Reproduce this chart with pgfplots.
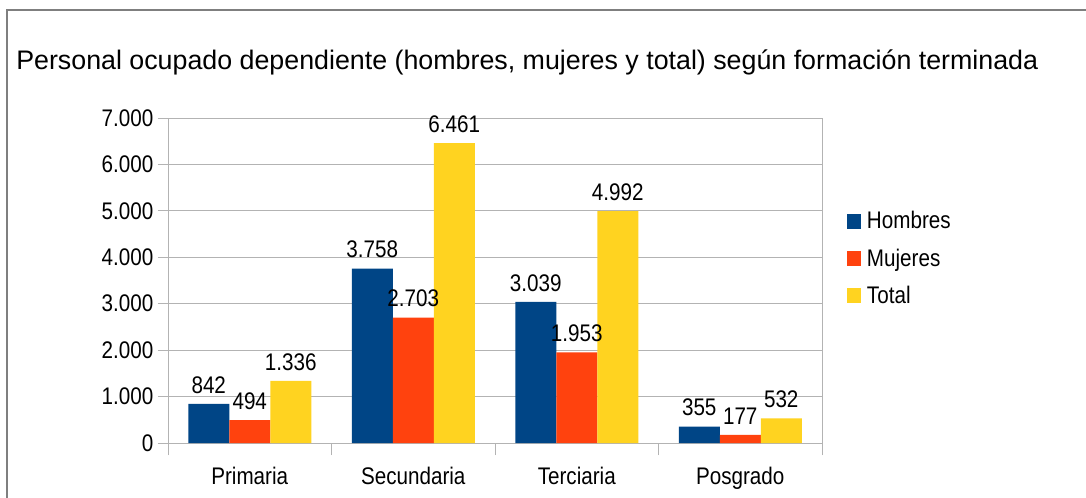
\documentclass[border=0pt]{standalone}
\usepackage{fontspec}
\setmainfont{Liberation Sans}
\newfontfamily\narrowfont[FakeStretch=0.86]{Liberation Sans}
\usepackage{pgfplots}
\pgfplotsset{compat=1.18}
\pgfplotsset{/pgf/number format/.cd, 1000 sep={.}, assume math mode=true}
\definecolor{cblue}{HTML}{004586}
\definecolor{corange}{HTML}{FF420E}
\definecolor{cyellow}{HTML}{FFD320}
\definecolor{cgrid}{HTML}{B3B3B3}
\definecolor{cframe}{HTML}{7F7F7F}
\newcommand{\lblfont}{\narrowfont\fontsize{18}{21}\selectfont}
\begin{document}
\begin{tikzpicture}
\useasboundingbox (0,0) rectangle (814.5pt,372.75pt);
\clip (0,0) rectangle (814.5pt,372.75pt);
\fill[white] (0,0) rectangle (814.5pt,372.75pt);
\draw[cframe, line width=0.9pt] (5.25pt,-10pt) -- (5.25pt,365.25pt) -- (830pt,365.25pt);
\node[anchor=base west, inner sep=0pt, font=\fontsize{20.1}{24}\selectfont] at (12pt,320.8pt) {Personal ocupado dependiente (hombres, mujeres y total) según formación terminada};
\begin{axis}[
  at={(126pt,40.5pt)}, anchor=south west,
  scale only axis, width=490.5pt, height=243.75pt,
  ybar=0pt, bar width=30.75pt,
  xmin=-0.5, xmax=3.5, ymin=0, ymax=7000,
  xtick={0,1,2,3}, xticklabels={Primaria,Secundaria,Terciaria,Posgrado},
  minor xtick={-0.5,0.5,1.5,2.5,3.5},
  ytick={0,1000,...,7000},
  scaled y ticks=false,
  ymajorgrids, major grid style={cgrid, line width=0.75pt},
  axis line style={cgrid, line width=0.75pt},
  tick align=outside, tick pos=left,
  major tick length=7.5pt, minor tick length=9pt,
  tick style={cgrid, line width=0.75pt},
  major x tick style={draw=none},
  ticklabel style={font=\lblfont, text=black},
  xticklabel style={yshift=-6.8pt},
  nodes near coords,
  every node near coord/.append style={font=\lblfont, text=black, yshift=4.3pt},
  legend style={at={(rel axis cs:1.0378,0.712)}, anchor=north west, draw=none, fill=none, inner sep=0pt,
    font=\lblfont, row sep=12.1pt,
    nodes={inner sep=0pt, text height=12.5pt, text depth=3.5pt}},
  legend cell align=left,
  legend image code/.code={\fill[#1] (0pt,-4.5pt) rectangle (10.5pt,6.75pt); \path (15pt,0pt);},
]
\addplot[fill=cblue, draw=none] coordinates {(0,842) (1,3758) (2,3039) (3,355)};
\addplot[fill=corange, draw=none] coordinates {(0,494) (1,2703) (2,1953) (3,177)};
\addplot[fill=cyellow, draw=none] coordinates {(0,1336) (1,6461) (2,4992) (3,532)};
\legend{Hombres,Mujeres,Total}
\end{axis}
\end{tikzpicture}
\end{document}
